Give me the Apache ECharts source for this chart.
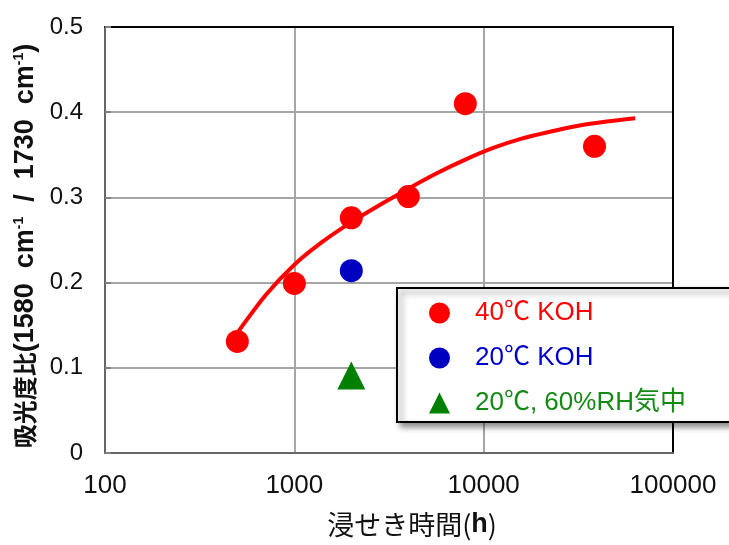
<!DOCTYPE html>
<html>
<head>
<meta charset="utf-8">
<script src="https://cdn.jsdelivr.net/npm/echarts@6/dist/echarts.min.js"></script>
<style>
html,body{margin:0;padding:0;background:#fff;}
#c{width:729px;height:545px;}
</style>
</head>
<body>
<div id="c"></div>
<script>
// ---- data ----
const series40Name = '40℃ KOH';
const series20Name = '20℃ KOH';
const seriesAirName = '20℃, 60%RH気中';

const koh40Hours = [500, 1000, 2000, 4000, 8000, 38500];
const koh40Ratio = [0.131, 0.199, 0.276, 0.301, 0.410, 0.360];

const koh20Hours = [2000];
const koh20Ratio = [0.214];

const airHours = [2000];
const airRatio = [0.091];

// fitted trend curve (red line)
const curveHours = [500, 710, 1000, 1410, 2000, 2820, 3980, 5620, 7940, 11220, 15850, 22390, 31620, 44670, 63100];
const curveRatio = [0.141, 0.186, 0.221, 0.248, 0.271, 0.291, 0.310, 0.328, 0.344, 0.358, 0.369, 0.377, 0.384, 0.389, 0.393];

const xTickValues = [100, 1000, 10000, 100000];
const xTickLabels = ['100', '1000', '10000', '100000'];
const yTickLabels = ['0', '0.1', '0.2', '0.3', '0.4', '0.5'];

const zip = (a, b) => a.map((v, i) => [v, b[i]]);

const chart = echarts.init(document.getElementById('c'), null, {renderer: 'canvas'});
const latin = "'Liberation Sans', Arial, 'Noto Sans CJK JP', sans-serif";

chart.setOption({
  animation: false,
  backgroundColor: '#fff',
  grid: {
    left: 105, right: 56, top: 27, bottom: 92,
    show: true, borderColor: '#000', borderWidth: 0, backgroundColor: '#fff'
  },
  xAxis: [{
    type: 'log', logBase: 10, min: 100, max: 100000,
    axisLine: {show: true, lineStyle: {color: '#666', width: 2}},
    axisTick: {show: false},
    splitLine: {show: true, lineStyle: {color: '#a6a6a6', width: 2}},
    minorSplitLine: {show: false},
    axisLabel: {
      fontFamily: latin, fontSize: 26, color: '#111', margin: 20,
      formatter: v => { const i = xTickValues.indexOf(Math.round(v)); return i >= 0 ? xTickLabels[i] : ''; }
    },
    name: '浸せき時間({b|h})',
    nameLocation: 'middle',
    nameGap: 58,
    nameTextStyle: {
      fontFamily: "'Noto Sans CJK JP', sans-serif", fontSize: 27, color: '#111',
      padding: [0, 0, 0, 46],
      rich: {b: {fontFamily: latin, fontWeight: 'bold', fontSize: 27, color: '#111'}}
    }
  }, {
    type: 'log', logBase: 10, min: 100, max: 100000, position: 'top',
    axisLine: {show: true, onZero: false, lineStyle: {color: '#000', width: 2}},
    axisTick: {show: false}, axisLabel: {show: false}, splitLine: {show: false}
  }],
  yAxis: [{
    type: 'value', min: 0, max: 0.5, interval: 0.1,
    axisLine: {show: true, lineStyle: {color: '#666', width: 2}},
    axisTick: {show: true, inside: true, length: 6, lineStyle: {color: '#7f7f7f', width: 2}},
    splitLine: {show: true, lineStyle: {color: '#a6a6a6', width: 2}},
    axisLabel: {
      fontFamily: latin, fontSize: 24, color: '#111', margin: 22,
      formatter: v => yTickLabels[Math.round(v * 10)]
    },
    name: '{c|吸光度比}{t|(1580  cm}{s|-1}{t|  /  1730  cm}{s|-1}{t|)}',
    nameLocation: 'middle',
    nameGap: 66,
    nameTextStyle: {
      color: '#111',
      padding: [0, 12, 0, 0],
      rich: {
        c: {fontFamily: "'Noto Sans CJK JP', sans-serif", fontWeight: 'bold', fontSize: 24, color: '#111'},
        t: {fontFamily: latin, fontWeight: 'bold', fontSize: 27, color: '#111'},
        s: {fontFamily: latin, fontWeight: 'bold', fontSize: 14, color: '#111', verticalAlign: 'top'}
      }
    }
  }, {
    type: 'value', min: 0, max: 0.5, interval: 0.1, position: 'right',
    axisLine: {show: true, onZero: false, lineStyle: {color: '#000', width: 2}},
    axisTick: {show: false}, axisLabel: {show: false}, splitLine: {show: false}
  }],
  legend: {
    orient: 'vertical',
    left: 397, top: 288,
    itemWidth: 21, itemHeight: 21, itemGap: 19,
    padding: [12, 50, 6, 32],
    backgroundColor: '#fff',
    borderColor: '#000', borderWidth: 2,
    shadowBlur: 6, shadowColor: 'rgba(0,0,0,0.45)', shadowOffsetX: 4, shadowOffsetY: 4,
    textStyle: {fontFamily: latin, fontSize: 26, padding: [0, 0, 0, 20]},
    data: [
      {name: series40Name, textStyle: {color: '#ff0000'}},
      {name: series20Name, textStyle: {color: '#0000cc'}},
      {name: seriesAirName, textStyle: {color: '#138a13'}}
    ]
  },
  series: [
    {
      type: 'line', name: 'fit', data: zip(curveHours, curveRatio),
      showSymbol: false, smooth: 0.3, silent: true, z: 2,
      lineStyle: {color: '#ff0000', width: 4, join: 'round', cap: 'butt'}
    },
    {
      type: 'scatter', name: series40Name, data: zip(koh40Hours, koh40Ratio),
      symbol: 'circle', symbolSize: 23, z: 3,
      itemStyle: {color: '#ff0000', opacity: 1}
    },
    {
      type: 'scatter', name: series20Name, data: zip(koh20Hours, koh20Ratio),
      symbol: 'circle', symbolSize: 23, z: 3,
      itemStyle: {color: '#0000c0', opacity: 1}
    },
    {
      type: 'scatter', name: seriesAirName, data: zip(airHours, airRatio),
      symbol: 'triangle', symbolSize: [28, 28], z: 3,
      itemStyle: {color: '#008000', opacity: 1}
    }
  ]
});
</script>
</body>
</html>
